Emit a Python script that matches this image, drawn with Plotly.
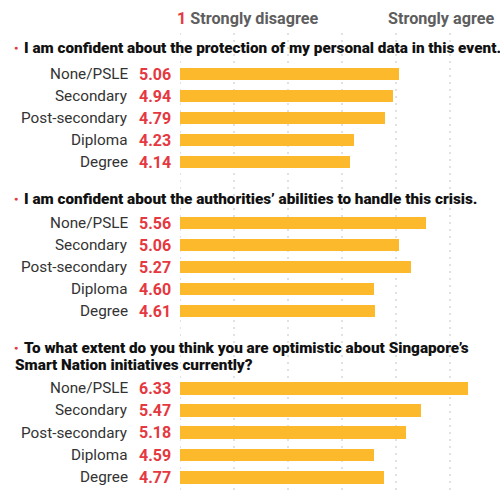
import plotly.graph_objects as go

categories = ["None/PSLE", "Secondary", "Post-secondary", "Diploma", "Degree"]
q1_values = [5.06, 4.94, 4.79, 4.23, 4.14]
q2_values = [5.56, 5.06, 5.27, 4.60, 4.61]
q3_values = [6.33, 5.47, 5.18, 4.59, 4.77]
scale_ticks = [1, 2, 3, 4, 5, 6, 7]

q1_title = "I am confident about the protection of my personal data in this event."
q2_title = "I am confident about the authorities\u2019 abilities to handle this crisis."
q3_title_l1 = "To what extent do you think you are optimistic about Singapore\u2019s"
q3_title_l2 = "Smart Nation initiatives currently?"

W, H = 500, 490
BAR = "#FDB92C"
RED = "#E5383F"
FONT = "Roboto"

def px(x):
    return x / W

def py(y):
    return 1 - y / H

fig = go.Figure()
series = [(q1_values, "y"), (q2_values, "y2"), (q3_values, "y3")]
for vals, ya in series:
    fig.add_trace(go.Bar(
        x=vals, y=categories, orientation="h", yaxis=ya, xaxis="x",
        marker=dict(color=BAR, line=dict(width=0)), width=0.57,
        hoverinfo="skip", showlegend=False,
    ))

domains = [(63, 173), (212, 322), (377, 488.5)]
yaxes = {}
for i, (top, bot) in enumerate(domains):
    name = "yaxis" if i == 0 else f"yaxis{i+1}"
    yaxes[name] = dict(
        domain=[py(bot), py(top)], anchor="x", type="category",
        categoryorder="array", categoryarray=categories,
        range=[4.5, -0.5], visible=False, fixedrange=True,
    )

annotations = []
for vals, ya in series:
    for c, v in zip(categories, vals):
        annotations.append(dict(
            x=px(130), xref="paper", y=c, yref=ya, text=c, showarrow=False,
            xanchor="right", yanchor="middle",
            font=dict(family=FONT, size=15.3, color="#333333"),
        ))
        annotations.append(dict(
            x=px(137), xref="paper", y=c, yref=ya, text=v and f"{v:.2f}",
            showarrow=False, xanchor="left", yanchor="middle",
            font=dict(family=FONT, size=16, color=RED, weight=700),
        ))

title_font = dict(family=FONT, size=15.3, color="#111111", weight=900)
for text, y in [(q1_title, 48), (q2_title, 199), (q3_title_l1, 348)]:
    annotations.append(dict(x=px(16), xref="paper", y=py(y), yref="paper",
                            text="\u25CF", showarrow=False, xanchor="center",
                            yanchor="middle",
                            font=dict(family=FONT, size=7, color=RED)))
    annotations.append(dict(x=px(22), xref="paper", y=py(y), yref="paper",
                            text=text, showarrow=False,
                            xanchor="left", yanchor="middle", font=title_font))
annotations.append(dict(x=px(13), xref="paper", y=py(365), yref="paper",
                        text=q3_title_l2, showarrow=False,
                        xanchor="left", yanchor="middle", font=title_font))

head_font = dict(family=FONT, size=16.2, color="#5E5E5E", weight=700)
annotations.append(dict(x=px(175), xref="paper", y=py(18), yref="paper",
                        text=f"<span style='color:{RED}'>1</span> Strongly disagree",
                        showarrow=False, xanchor="left", yanchor="middle",
                        font=head_font))
annotations.append(dict(x=px(496), xref="paper", y=py(18), yref="paper",
                        text="Strongly agree", showarrow=False,
                        xanchor="right", yanchor="middle", font=head_font))

shapes = []
for t in scale_ticks:
    shapes.append(dict(type="line", xref="x", yref="paper", x0=t, x1=t,
                       y0=0, y1=py(28), layer="below",
                       line=dict(color="#C4C4C4", width=1, dash="2px,5px")))

fig.update_layout(
    width=W, height=H,
    margin=dict(l=0, r=0, t=0, b=0),
    paper_bgcolor="white", plot_bgcolor="rgba(0,0,0,0)",
    xaxis=dict(domain=[px(180), 1], range=[1, 1 + 320 / 54], visible=False,
               fixedrange=True),
    annotations=annotations, shapes=shapes, bargap=0,
    **yaxes,
)

fig.write_html(
    "out.html",
    config={"displayModeBar": False},
    post_script="document.body.style.margin='0';document.body.style.overflow='hidden';",
)
